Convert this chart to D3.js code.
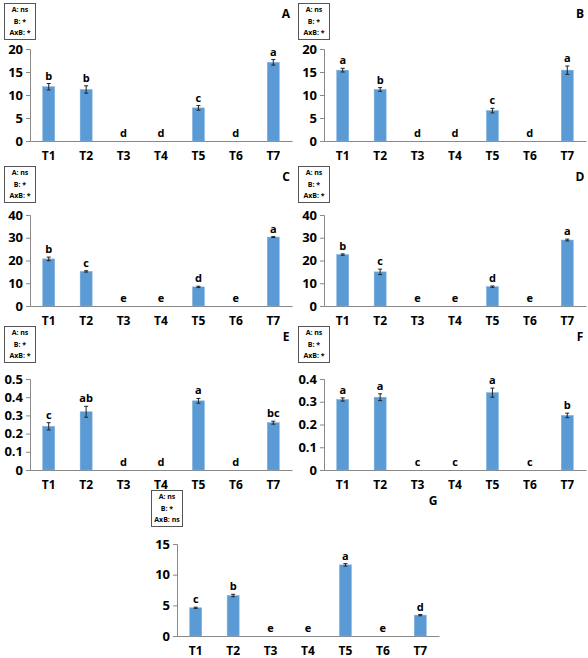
<!DOCTYPE html>
<html><head><meta charset="utf-8">
<script src="https://cdn.jsdelivr.net/npm/d3@7"></script>
<style>body{margin:0;background:#fff} text{font-family:"Open Sans",sans-serif;font-weight:bold}</style>
</head><body><svg id="c" width="588" height="658"></svg>
<script>
var cats = ["T1","T2","T3","T4","T5","T6","T7"];
var panelNames = ["A","B","C","D","E","F","G"];
var valsA = [11.8,11.2,0,0,7.2,0,17.1], errA = [0.7,0.8,0,0,0.5,0,0.6], letA = ["b","b","d","d","c","d","a"];
var valsB = [15.4,11.2,0,0,6.6,0,15.4], errB = [0.4,0.4,0,0,0.5,0,0.9], letB = ["a","b","d","d","c","d","a"];
var valsC = [20.7,15.2,0,0,8.4,0,30.3], errC = [0.8,0.3,0,0,0.3,0,0.2], letC = ["b","c","e","e","d","e","a"];
var valsD = [22.6,15.0,0,0,8.5,0,29.0], errD = [0.3,1.2,0,0,0.3,0,0.4], letD = ["b","c","e","e","d","e","a"];
var valsE = [0.24,0.32,0,0,0.38,0,0.26], errE = [0.02,0.03,0,0,0.013,0,0.008], letE = ["c","ab","d","d","a","d","bc"];
var valsF = [0.31,0.32,0,0,0.34,0,0.24], errF = [0.007,0.015,0,0,0.02,0,0.01], letF = ["a","a","c","c","a","c","b"];
var valsG = [4.6,6.6,0,0,11.6,0,3.4], errG = [0.1,0.2,0,0,0.2,0,0.1], letG = ["c","b","e","e","a","e","d"];
var ticksAB = [0,5,10,15,20], ticksCD = [0,10,20,30,40], ticksE = [0,0.1,0.2,0.3,0.4,0.5], ticksF = [0,0.1,0.2,0.3,0.4], ticksG = [0,5,10,15];
var statsStd = ["A: ns","B: *","AxB: *"], statsG = ["A: ns","B: *","AxB: ns"];

var panels = [
  {name:"A", vals:valsA, err:errA, lets:letA, ticks:ticksAB, stats:statsStd, ox:0,   oy:3,   top:46, base:138},
  {name:"B", vals:valsB, err:errB, lets:letB, ticks:ticksAB, stats:statsStd, ox:294, oy:3,   top:46, base:138},
  {name:"C", vals:valsC, err:errC, lets:letC, ticks:ticksCD, stats:statsStd, ox:0,   oy:166, top:49, base:140},
  {name:"D", vals:valsD, err:errD, lets:letD, ticks:ticksCD, stats:statsStd, ox:294, oy:166, top:49, base:140},
  {name:"E", vals:valsE, err:errE, lets:letE, ticks:ticksE,  stats:statsStd, ox:0,   oy:326, top:53, base:144},
  {name:"F", vals:valsF, err:errF, lets:letF, ticks:ticksF,  stats:statsStd, ox:294, oy:326, top:53, base:144},
  {name:"G", vals:valsG, err:errG, lets:letG, ticks:ticksG,  stats:statsG,   ox:147, oy:490, top:54, base:146}
];

var svg = d3.select("#c");

panels.forEach(function(p){
  var g = svg.append("g").attr("transform","translate("+p.ox+","+p.oy+")");
  var x = d3.scaleBand().domain(cats).range([30,292]);
  var y = d3.scaleLinear().domain([0, d3.max(p.ticks)]).range([p.base, p.top]);

  // stats box
  g.append("rect").attr("x",4.5).attr("y",0.5).attr("width",31).attr("height",36)
    .attr("fill","#fff").attr("stroke","#555");
  p.stats.forEach(function(s,i){
    g.append("text").attr("x",20).attr("y",9+i*11.5).attr("text-anchor","middle")
      .attr("font-size",7).text(s);
  });
  g.append("text").attr("x",286).attr("y",15).attr("text-anchor","middle")
    .attr("font-size",12).text(p.name);

  // y axis
  var ya = g.append("g").attr("transform","translate(30,0)")
    .call(d3.axisLeft(y).tickValues(p.ticks).tickSize(4).tickFormat(d3.format("")));
  ya.select(".domain").attr("stroke","#888");
  ya.selectAll("line").attr("stroke","#888");
  ya.selectAll("text").attr("font-size",13).attr("fill","#000").attr("x",-7);

  // x axis
  var xa = g.append("g").attr("transform","translate(0,"+p.base+")")
    .call(d3.axisBottom(x).tickSize(0).tickSizeOuter(0));
  xa.select(".domain").attr("stroke","#888");
  xa.selectAll("text").attr("font-size",12).attr("fill","#000").attr("dy","1.3em");

  var bw = 12;
  g.selectAll(".bar").data(p.vals).enter().append("rect")
    .attr("x",function(d,i){return x(cats[i])+x.bandwidth()/2-bw/2;})
    .attr("y",function(d){return y(d);})
    .attr("width",bw).attr("height",function(d){return p.base-y(d);})
    .attr("fill","#5b9bd5").attr("stroke","#7fb0dc").attr("stroke-width",0.5);

  p.vals.forEach(function(v,i){
    if(v===0) return;
    var cx = x(cats[i])+x.bandwidth()/2, e = p.err[i];
    var y1 = y(v+e), y2 = y(v-e);
    g.append("path").attr("d","M"+(cx-2)+","+y1+"H"+(cx+2)+"M"+cx+","+y1+"V"+y2+"M"+(cx-2)+","+y2+"H"+(cx+2))
      .attr("stroke","#222").attr("stroke-width",1).attr("fill","none");
  });

  p.lets.forEach(function(l,i){
    var cx = x(cats[i])+x.bandwidth()/2;
    var yy = p.vals[i]===0 ? p.base-4 : y(p.vals[i]+p.err[i])-4;
    g.append("text").attr("x",cx).attr("y",yy).attr("text-anchor","middle")
      .attr("font-size",11).text(l);
  });
});
</script></body></html>
